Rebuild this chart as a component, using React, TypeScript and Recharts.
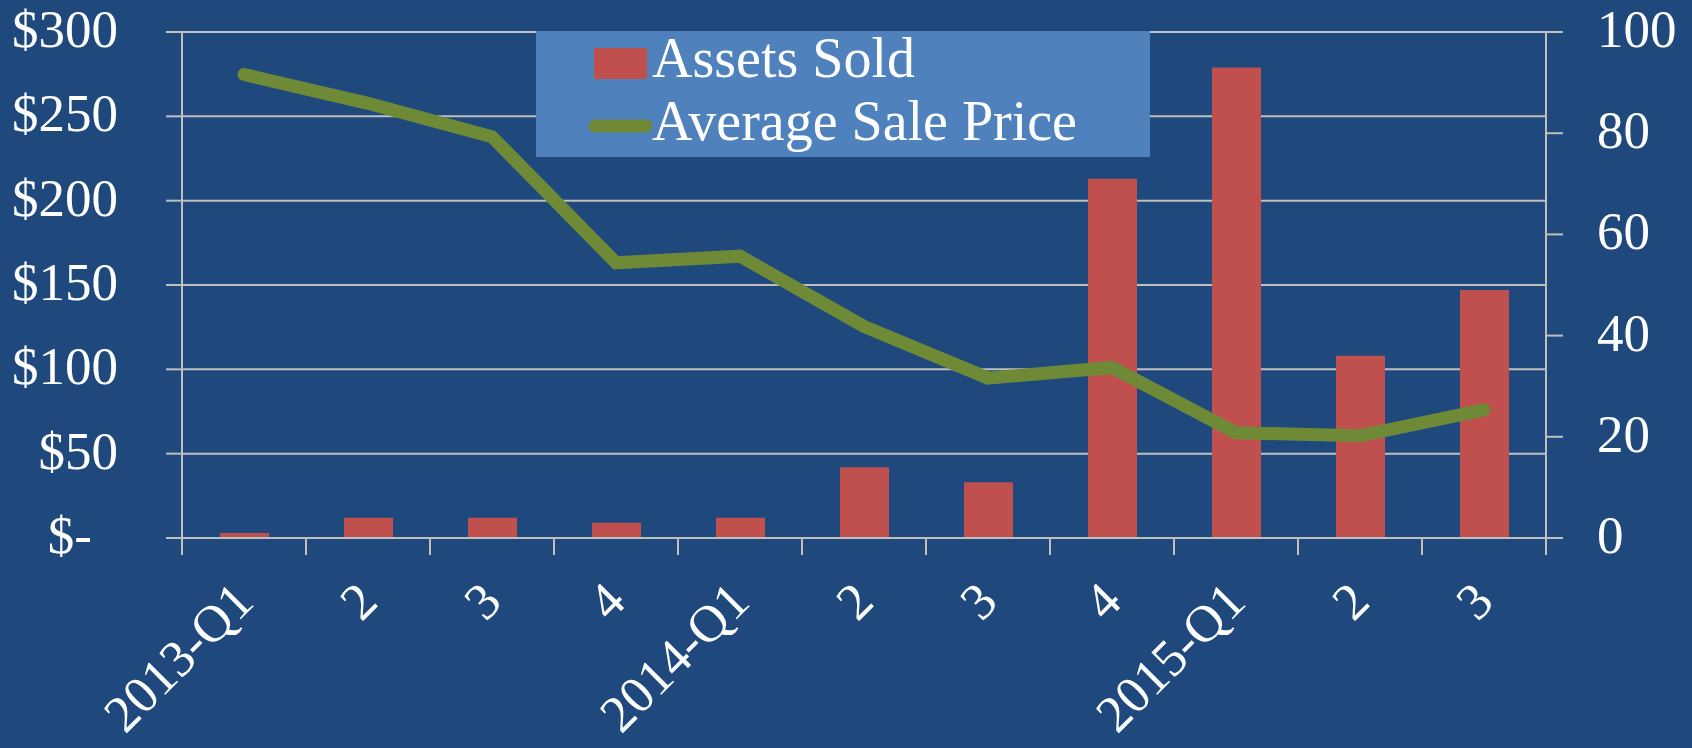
import { ComposedChart, Bar, Line, XAxis, YAxis, CartesianGrid } from 'recharts';

const quarters = ['2013-Q1', '2', '3', '4', '2014-Q1', '2', '3', '4', '2015-Q1', '2', '3'];
const assetsSold = [3, 12, 12, 9, 12, 42, 33, 213, 279, 108, 147];
const avgSalePrice = [91.6, 85.9, 79.3, 54.4, 55.7, 41.8, 31.6, 33.7, 20.8, 20.2, 25.3];
const leftTicks = [0, 50, 100, 150, 200, 250, 300];
const rightTicks = [0, 20, 40, 60, 80, 100];

const data = quarters.map((q, i) => ({
  idx: i,
  quarter: q,
  assets: assetsSold[i],
  price: avgSalePrice[i],
}));

const W = 1692;
const H = 748;
const PLOT_LEFT = 182;
const PLOT_RIGHT = 1546;
const PLOT_BOTTOM = 538;
const HALF_BAND = (PLOT_RIGHT - PLOT_LEFT) / quarters.length / 2;

const BG = '#1f497d';
const GRID = '#bfbfbf';
const RED = '#c0504d';
const GREEN = '#6f8a37';
const FONT = "'Liberation Serif', 'Times New Roman', serif";

function LeftTick(props: any) {
  const { y, payload } = props;
  const v = payload.value;
  return (
    <text x={v === 0 ? 92 : 118} y={y + 15} textAnchor="end" fill="#fff" fontSize={53} fontFamily={FONT}>
      {v === 0 ? '$-' : `$${v}`}
    </text>
  );
}

function RightTick(props: any) {
  const { y, payload } = props;
  return (
    <text x={1597} y={y + 15} textAnchor="start" fill="#fff" fontSize={53} fontFamily={FONT}>
      {payload.value}
    </text>
  );
}

function QuarterTick(props: any) {
  const { payload, index } = props;
  const cx = payload.coordinate;
  const last = index === quarters.length - 1;
  return (
    <g>
      <line x1={cx - HALF_BAND} x2={cx - HALF_BAND} y1={PLOT_BOTTOM} y2={PLOT_BOTTOM + 17} stroke={GRID} strokeWidth={2} />
      {last && (
        <line x1={cx + HALF_BAND} x2={cx + HALF_BAND} y1={PLOT_BOTTOM} y2={PLOT_BOTTOM + 17} stroke={GRID} strokeWidth={2} />
      )}
      <text
        transform={`translate(${cx + 12},${PLOT_BOTTOM + 66}) rotate(-45)`}
        textAnchor="end"
        fill="#fff"
        fontSize={52}
        fontFamily={FONT}
      >
        {quarters[index]}
      </text>
    </g>
  );
}

// legend box sits at x 536..1150, y 31..157 of the page
function LegendBox() {
  return (
    <svg width={614} height={170} style={{ position: 'absolute', left: 536, top: 0, overflow: 'visible' }}>
      <rect x={0} y={31} width={614} height={126} fill="#4f81bd" />
      <rect x={58} y={48} width={53} height={31} fill={RED} />
      <text x={116} y={77} fill="#fff" fontSize={56} fontFamily={FONT}>Assets Sold</text>
      <line x1={59} x2={110} y1={126} y2={126} stroke={GREEN} strokeWidth={13} strokeLinecap="round" />
      <text x={116} y={140} fill="#fff" fontSize={56} fontFamily={FONT}>Average Sale Price</text>
    </svg>
  );
}

export default function App() {
  return (
    <div style={{ position: 'absolute', left: 0, top: 0, width: W, height: H, background: BG, overflow: 'hidden' }}>
      <ComposedChart width={W} height={H} data={data} margin={{ top: 32, right: 0, bottom: 0, left: 0 }}>
        <CartesianGrid yAxisId="left" vertical={false} stroke={GRID} strokeWidth={2} />
        <XAxis
          dataKey="idx"
          interval={0}
          height={H - PLOT_BOTTOM}
          axisLine={{ stroke: GRID, strokeWidth: 2 }}
          tickLine={false}
          tick={<QuarterTick />}
        />
        <YAxis
          yAxisId="left"
          orientation="left"
          width={PLOT_LEFT}
          domain={[0, 300]}
          ticks={leftTicks}
          tickSize={16}
          axisLine={{ stroke: GRID, strokeWidth: 2 }}
          tickLine={{ stroke: GRID, strokeWidth: 2 }}
          tick={<LeftTick />}
        />
        <YAxis
          yAxisId="right"
          orientation="right"
          width={W - PLOT_RIGHT}
          domain={[0, 100]}
          ticks={rightTicks}
          tickSize={17}
          axisLine={{ stroke: GRID, strokeWidth: 2 }}
          tickLine={{ stroke: GRID, strokeWidth: 2 }}
          tick={<RightTick />}
        />
        <Bar yAxisId="left" dataKey="assets" fill={RED} barSize={49} isAnimationActive={false} />
        <Line
          yAxisId="right"
          type="linear"
          dataKey="price"
          stroke={GREEN}
          strokeWidth={13}
          strokeLinecap="round"
          dot={false}
          activeDot={false}
          isAnimationActive={false}
        />
      </ComposedChart>
      <LegendBox />
    </div>
  );
}
